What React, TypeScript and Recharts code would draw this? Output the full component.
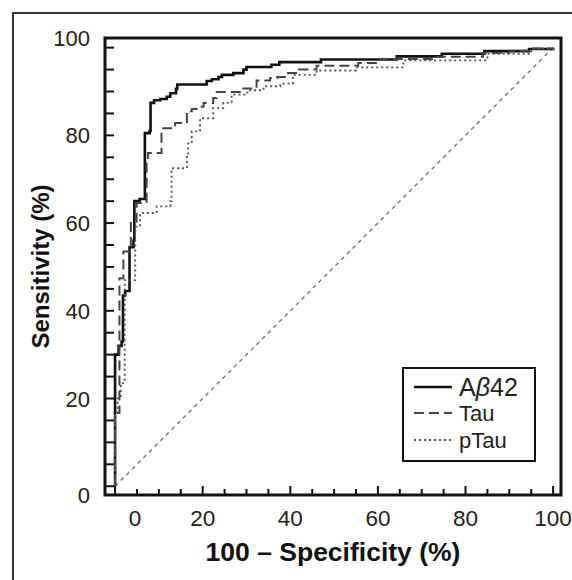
import React from 'react';
import { LineChart, Line, XAxis, YAxis, ReferenceArea, Legend } from 'recharts';

const FONT = '"Liberation Sans", Arial, Helvetica, sans-serif';

// ticks every 5 %, labels every 20 %
const axisTicks = [0, 5, 10, 15, 20, 25, 30, 35, 40, 45, 50, 55, 60, 65, 70, 75, 80, 85, 90, 95, 100];

const X_DOMAIN: [number, number] = [-2.3, 101.8];
const Y_DOMAIN: [number, number] = [-2, 102.2];

// ROC vertices: 100 - specificity (%) / sensitivity (%) after each rise
const abFpr = [0, 0, 0.8, 1.5, 1.8, 2.3, 3.3, 4.2, 4.4, 5.6, 6.8, 7.9, 8.1, 8.9, 10.3, 11.8, 12.6, 13.9, 14.2, 20.9, 22.1, 23.6, 24.4, 27, 29.3, 30, 35.7, 37.5, 47, 64.3, 74.6, 84.3, 94.5, 100];
const abSens = [0, 30, 32, 33, 43.5, 44.5, 54.5, 56, 65, 65.5, 80.5, 81, 87.4, 88, 88.3, 88.8, 89.6, 90.6, 91.6, 92.4, 92.8, 93.3, 93.8, 94.2, 95, 95.6, 96.1, 96.7, 97.3, 98, 98.6, 99.2, 99.7, 100];

const tauFpr = [0, 0, 1.0, 1.9, 3.6, 4.9, 7.2, 7.5, 10.6, 13.7, 16.4, 17.5, 18.6, 20.2, 22.4, 23.2, 29.3, 32.3, 35.4, 37, 39.5, 42, 46, 55.5, 60, 73, 84, 90, 95, 100];
const tauSens = [0, 16.7, 47.4, 53.5, 60.3, 64.6, 73.7, 76, 81.6, 82.8, 85.5, 86, 86.5, 87.4, 88.5, 89.9, 90.7, 92.5, 93.1, 93.3, 94.2, 95, 95.9, 96.5, 97.4, 97.9, 98.8, 99.3, 99.8, 100];

const ptauFpr = [0, 0, 0.6, 1.3, 2.2, 4.6, 5.7, 9.5, 12.6, 12.9, 16.4, 16.7, 17.5, 19.4, 22.4, 24.7, 26.6, 30.2, 33.9, 37.7, 40.6, 46, 55, 65.8, 85, 95, 100];
const ptauSens = [0, 17, 20, 23.5, 47, 59.2, 62.3, 63.8, 65, 72.5, 75.3, 78.5, 80.9, 83.9, 86.2, 87.4, 89.3, 90.3, 91.2, 91.8, 93.8, 94.8, 95.5, 97.1, 98.6, 99.8, 100];

const chanceFpr = [0, 100];
const chanceSens = [0, 100];

const toPoints = (xs: number[], ys: number[]) => xs.map((x, i) => ({ fpr: x, sens: ys[i] }));

const series = [
  { key: 'abeta', name: 'Aβ42', data: toPoints(abFpr, abSens), color: '#111', width: 2.6, dash: undefined as string | undefined },
  { key: 'tau', name: 'Tau', data: toPoints(tauFpr, tauSens), color: '#444', width: 2, dash: '10 5' },
  { key: 'ptau', name: 'pTau', data: toPoints(ptauFpr, ptauSens), color: '#555', width: 1.9, dash: '2 3' },
];

const XTick = (props: any) => {
  const { x, y, payload } = props;
  const v = payload.value as number;
  const major = v % 20 === 0;
  return (
    <g>
      <line x1={x} x2={x} y1={y} y2={y - (major ? 9 : 6)} stroke="#111" strokeWidth={2} />
      {major && (
        <text x={x + (v === 0 ? 20 : 0)} y={y + 30.5} textAnchor="middle" fontSize={22.5} fill="#222" fontFamily={FONT}>
          {v}
        </text>
      )}
    </g>
  );
};

const YTick = (props: any) => {
  const { x, y, payload } = props;
  const v = payload.value as number;
  const shift = v === 100 ? -10 : v === 0 ? 9 : 0;
  return (
    <g>
      <line x1={x} x2={x + 9} y1={y} y2={y} stroke="#111" strokeWidth={2} />
      {v % 20 === 0 && (
        <text x={x - 15} y={y + shift + 8} textAnchor="end" fontSize={22} fill="#222" fontFamily={FONT}>
          {v}
        </text>
      )}
    </g>
  );
};

const XTitle = (props: any) => {
  const vb = props.viewBox || { x: 105, y: 495, width: 456, height: 1 };
  return (
    <text x={vb.x + vb.width / 2} y={vb.y + 57} textAnchor="middle" dominantBaseline="central" fontSize={26.5} fontWeight="bold" fill="#111" fontFamily={FONT}>
      100 – Specificity (%)
    </text>
  );
};

const YTitle = (props: any) => {
  const vb = props.viewBox || { x: 104, y: 38, width: 1, height: 457 };
  const cx = vb.x + vb.width - 65;
  const cy = vb.y + vb.height / 2;
  return (
    <text x={cx} y={cy} transform={`rotate(-90, ${cx}, ${cy})`} textAnchor="middle" dominantBaseline="central" fontSize={24} fontWeight="bold" fill="#111" fontFamily={FONT}>
      Sensitivity (%)
    </text>
  );
};

const rowY = [20, 46, 73];

const LegendBox = () => (
  <svg width={134} height={95} style={{ display: 'block' }}>
    <rect x={1} y={1} width={132} height={93} fill="#fff" stroke="#111" strokeWidth={2} />
    {series.map((s, i) => (
      <g key={s.key}>
        <line x1={12} x2={50} y1={rowY[i]} y2={rowY[i]} stroke={s.color} strokeWidth={s.width} strokeDasharray={s.dash} />
        <text x={57} y={rowY[i]} dominantBaseline="central" fontSize={i === 0 ? 25 : 22} fill="#222" fontFamily={FONT}>
          {s.name === 'Aβ42' ? (
            <>
              A<tspan fontStyle="italic">β</tspan>42
            </>
          ) : (
            s.name
          )}
        </text>
      </g>
    ))}
  </svg>
);

export default function App() {
  return (
    <div style={{ position: 'absolute', left: 0, top: 0, width: 572, height: 580, overflow: 'hidden', background: '#fff' }}>
      <div style={{ position: 'absolute', left: 12, top: 12, width: 600, height: 600, border: '2px solid #333' }} />
      <div style={{ position: 'absolute', left: 0, top: 0 }}>
        <LineChart width={572} height={580} margin={{ top: 38, right: 11, bottom: 84, left: 104 }} style={{ fontFamily: FONT }}>
          <XAxis
            type="number"
            dataKey="fpr"
            domain={X_DOMAIN}
            ticks={axisTicks}
            interval={0}
            allowDataOverflow
            tick={<XTick />}
            tickLine={false}
            axisLine={false}
            tickSize={0}
            tickMargin={0}
            height={1}
            label={{ content: XTitle }}
          />
          <YAxis
            type="number"
            domain={Y_DOMAIN}
            ticks={axisTicks}
            interval={0}
            allowDataOverflow
            tick={<YTick />}
            tickLine={false}
            axisLine={false}
            tickSize={0}
            tickMargin={0}
            width={1}
            label={{ content: YTitle }}
          />
          <ReferenceArea
            x1={X_DOMAIN[0]}
            x2={X_DOMAIN[1]}
            y1={Y_DOMAIN[0]}
            y2={Y_DOMAIN[1]}
            fill="none"
            stroke="#111"
            strokeWidth={3}
            ifOverflow="visible"
          />
          <Line
            data={toPoints(chanceFpr, chanceSens)}
            dataKey="sens"
            type="linear"
            stroke="#777"
            strokeWidth={1.4}
            strokeDasharray="4 4"
            dot={false}
            activeDot={false}
            isAnimationActive={false}
            legendType="none"
          />
          {series.map((s) => (
            <Line
              key={s.key}
              data={s.data}
              dataKey="sens"
              name={s.name}
              type="stepAfter"
              stroke={s.color}
              strokeWidth={s.width}
              strokeDasharray={s.dash}
              dot={false}
              activeDot={false}
              isAnimationActive={false}
            />
          ))}
          <Legend
            layout="vertical"
            align="center"
            verticalAlign="middle"
            content={() => <LegendBox />}
            wrapperStyle={{ left: 402, top: 367, right: 'auto', bottom: 'auto', width: 134, height: 95 }}
          />
        </LineChart>
      </div>
    </div>
  );
}
